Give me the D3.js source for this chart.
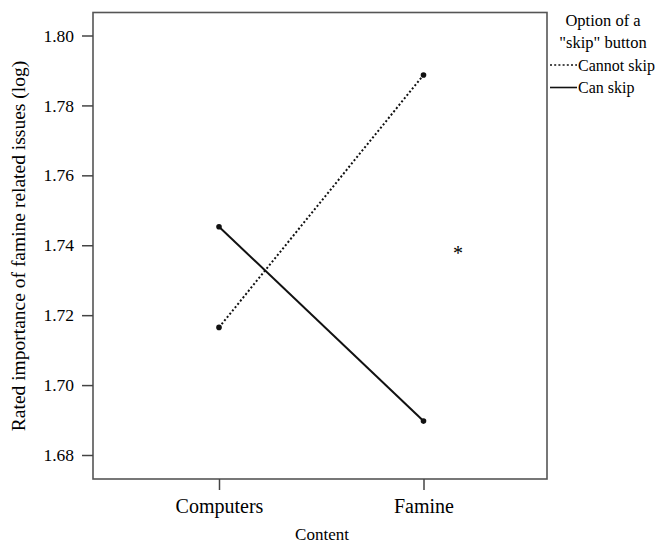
<!DOCTYPE html>
<html>
<head>
<meta charset="utf-8">
<script src="https://cdn.jsdelivr.net/npm/d3@7"></script>
<style>
  body { margin: 0; background: #fff; }
  svg text { font-family: "Liberation Serif", "Times New Roman", serif; fill: #000; }
</style>
</head>
<body>
<svg id="chart" width="661" height="545"></svg>
<script>
// Estimated marginal means by content and skip-button condition
const categories = ["Computers", "Famine"];
const seriesNames = ["Cannot skip", "Can skip"];
const cannotSkip = [1.7165, 1.7887];
const canSkip = [1.7453, 1.6897];
const yTicks = [1.68, 1.70, 1.72, 1.74, 1.76, 1.78, 1.80];

const svg = d3.select("#chart");
const frame = { left: 93, right: 547, top: 12.5, bottom: 479 };

const x = d3.scalePoint().domain(categories).range([219, 423.5]);
const y = d3.scaleLinear().domain([1.68, 1.80]).range([455, 35.5]);

// plot frame
svg.append("rect")
  .attr("x", frame.left).attr("y", frame.top)
  .attr("width", frame.right - frame.left)
  .attr("height", frame.bottom - frame.top)
  .attr("fill", "none").attr("stroke", "#555").attr("stroke-width", 1.6);

// y axis
const yAxis = svg.append("g")
  .attr("transform", `translate(${frame.left},0)`)
  .call(d3.axisLeft(y).tickValues(yTicks).tickFormat(d3.format(".2f")).tickSize(11).tickPadding(8));
yAxis.select(".domain").remove();
yAxis.selectAll(".tick line").attr("stroke", "#444").attr("stroke-width", 1.5);
yAxis.selectAll(".tick text").attr("font-size", 17.5).attr("font-family", "Liberation Serif").attr("fill", "#000");

// x axis
const xAxis = svg.append("g")
  .attr("transform", `translate(0,${frame.bottom})`)
  .call(d3.axisBottom(x).tickSize(11).tickPadding(9));
xAxis.select(".domain").remove();
xAxis.selectAll(".tick line").attr("stroke", "#444").attr("stroke-width", 1.5);
xAxis.selectAll(".tick text").attr("font-size", 20).attr("font-family", "Liberation Serif").attr("fill", "#000");

// axis titles
svg.append("text")
  .attr("transform", "translate(25,246) rotate(-90)")
  .attr("text-anchor", "middle")
  .attr("font-size", 19.5)
  .text("Rated importance of famine related issues (log)");

svg.append("text")
  .attr("x", 322).attr("y", 540)
  .attr("text-anchor", "middle")
  .attr("font-size", 17)
  .text("Content");

// series lines
const line = d3.line().x((d, i) => x(categories[i])).y(d => y(d));
const series = [
  { name: seriesNames[0], values: cannotSkip, dash: "2,2.2" },
  { name: seriesNames[1], values: canSkip, dash: null }
];

series.forEach(s => {
  svg.append("path")
    .datum(s.values)
    .attr("d", line)
    .attr("fill", "none")
    .attr("stroke", "#111")
    .attr("stroke-width", 2)
    .attr("stroke-dasharray", s.dash);
  svg.selectAll(null)
    .data(s.values)
    .enter().append("circle")
    .attr("cx", (d, i) => x(categories[i]))
    .attr("cy", d => y(d))
    .attr("r", 2.8)
    .attr("fill", "#111");
});

// significance marker
svg.append("text")
  .attr("x", 458).attr("y", 260)
  .attr("text-anchor", "middle")
  .attr("font-size", 20)
  .text("*");

// legend
const legend = svg.append("g");
legend.append("text").attr("x", 603).attr("y", 26).attr("text-anchor", "middle")
  .attr("font-size", 16.5).text("Option of a");
legend.append("text").attr("x", 603).attr("y", 48).attr("text-anchor", "middle")
  .attr("font-size", 16.5).text("\"skip\" button");
series.forEach((s, i) => {
  const ly = 65 + i * 22.5;
  legend.append("line")
    .attr("x1", 550).attr("x2", 577).attr("y1", ly).attr("y2", ly)
    .attr("stroke", "#111").attr("stroke-width", 1.6)
    .attr("stroke-dasharray", s.dash);
  legend.append("text").attr("x", 578).attr("y", ly + 5.5)
    .attr("font-size", 16).text(s.name);
});
</script>
</body>
</html>
